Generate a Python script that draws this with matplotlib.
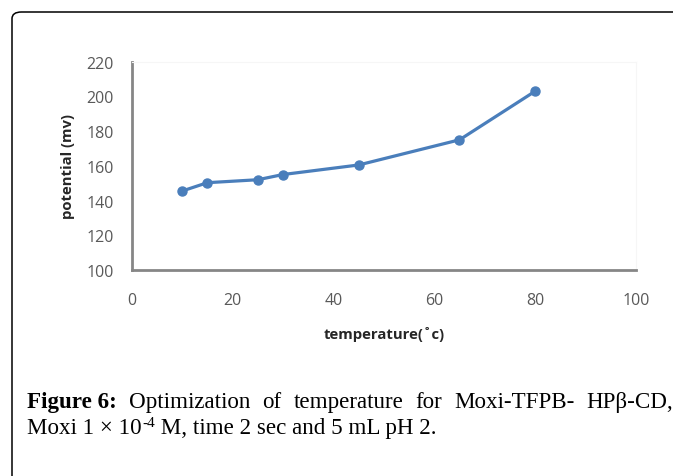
import matplotlib.pyplot as plt
from matplotlib.patches import FancyBboxPatch

# temperature (deg C) vs potential (mV)
temperature = [10, 15, 25, 30, 45, 65, 80]
potential = [145.5, 150.3, 152, 155, 160.5, 175, 203]
x_ticks = [0, 20, 40, 60, 80, 100]
y_ticks = [100, 120, 140, 160, 180, 200, 220]

caption_bold = "Figure 6:"
caption_line1 = ["Optimization", "of", "temperature", "for", "Moxi-TFPB-", "HPβ-CD,"]
caption_line2 = ["Moxi 1 × 10", "-4", " M, time 2 sec and 5 mL pH 2."]

W, H = 673, 477
fig = plt.figure(figsize=(W / 100, H / 100), dpi=100)

# outer frame of the figure box (rounded, runs off the right / bottom edge)
frame = FancyBboxPatch((12 / W, -0.2), 1.2, (H - 13) / H + 0.2,
                       boxstyle="round,pad=0,rounding_size=0.014",
                       transform=fig.transFigure, fill=False,
                       edgecolor="black", linewidth=1.1, zorder=0)
fig.patches.append(frame)

ax = fig.add_axes([131.7 / W, 1 - 271 / H, (636 - 131.7) / W, (271 - 62.7) / H])
ax.plot(temperature, potential, color="#4a7ebb", linewidth=2.3,
        marker="o", markersize=6.5, solid_capstyle="round")

ax.set_xlim(0, 100)
ax.set_ylim(100, 220)
ax.set_xticks(x_ticks)
ax.set_yticks(y_ticks)

tick_font = {"family": "Open Sans", "size": 11.5, "color": "#595959"}
ax.set_xticklabels([str(t) for t in x_ticks], fontdict=tick_font)
ax.set_yticklabels([str(t) for t in y_ticks], fontdict=tick_font)
ax.tick_params(axis="both", length=0)
ax.tick_params(axis="x", pad=16)
ax.tick_params(axis="y", pad=13)

for side in ["top", "right"]:
    ax.spines[side].set_color("#f6f6f6")
    ax.spines[side].set_linewidth(0.8)
for side in ["left", "bottom"]:
    ax.spines[side].set_color("#868686")
    ax.spines[side].set_linewidth(2.0)

ax.set_xlabel("temperature(˚c)", family="Open Sans", fontsize=10.7,
              fontweight="bold", color="#262626", labelpad=13)
ax.set_ylabel("potential (mv)", family="Open Sans", fontsize=10.7,
              fontweight="bold", color="#262626", labelpad=8)

# caption: first line justified between the left margin and the image edge
cap_font = {"family": "Liberation Serif", "size": 16.6}
y1 = 1 - 408 / H
y2 = 1 - 434 / H
left, right = 27, 673
renderer = fig.canvas.get_renderer()


def width_px(t):
    return t.get_window_extent(renderer=renderer).width


texts = [fig.text(left / W, y1, caption_bold, fontweight="bold", va="baseline", **cap_font)]
for w in caption_line1:
    texts.append(fig.text(0, y1, w, va="baseline", **cap_font))
widths = [width_px(t) for t in texts]
gap = (right - left - sum(widths)) / (len(texts) - 1)
x = left
for t, w in zip(texts, widths):
    t.set_x(x / W)
    x += w + gap

# second line with a raised "-4"
t_a = fig.text(left / W, y2, caption_line2[0], va="baseline", **cap_font)
xa = left + width_px(t_a) + 1
t_b = fig.text(xa / W, y2 + 7 / H, caption_line2[1], va="baseline",
               family="Liberation Serif", size=11)
xb = xa + width_px(t_b)
fig.text(xb / W, y2, caption_line2[2], va="baseline", **cap_font)

fig.savefig("out.png", dpi=100)
